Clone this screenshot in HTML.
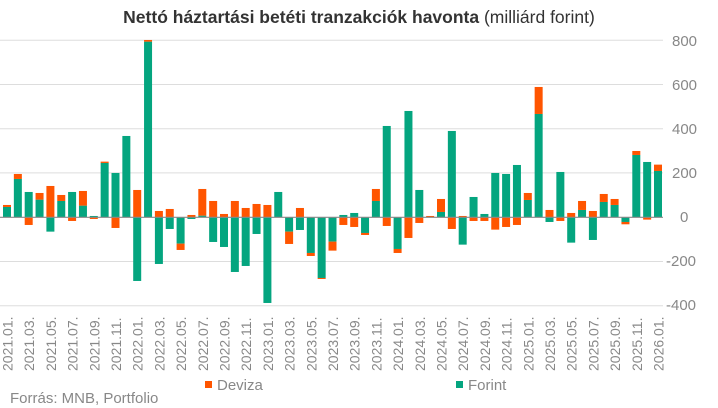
<!DOCTYPE html>
<html><head><meta charset="utf-8"><style>
html,body{margin:0;padding:0;background:#fff;}
svg{display:block;font-family:"Liberation Sans",sans-serif;}
</style></head><body>
<svg id="c" width="718" height="408" xmlns="http://www.w3.org/2000/svg">
<text x="359" y="23" text-anchor="middle" font-size="17.5" fill="#333"><tspan font-weight="bold">Nettó háztartási betéti tranzakciók havonta</tspan> (milliárd forint)</text>
<g stroke="#ddd" stroke-width="1">
<line x1="0" x2="663" y1="40.3" y2="40.3"/><line x1="0" x2="663" y1="84.5" y2="84.5"/>
<line x1="0" x2="663" y1="128.7" y2="128.7"/><line x1="0" x2="663" y1="172.9" y2="172.9"/>
<line x1="0" x2="663" y1="261.5" y2="261.5"/><line x1="0" x2="663" y1="305.7" y2="305.7"/>
</g>
<g font-size="15" fill="#888">
<text x="672" y="46">800</text><text x="672" y="90">600</text><text x="672" y="134">400</text>
<text x="672" y="178">200</text><text x="680" y="222">0</text><text x="666" y="266">-200</text><text x="666" y="310">-400</text>
</g>
<g id="bars"></g>
<line x1="0" x2="663" y1="217.3" y2="217.3" stroke="#888" stroke-width="1.2"/>
<g id="xl" font-size="14" fill="#888"></g>
<rect x="205" y="381" width="7" height="7" fill="#ff5500"/>
<text x="217" y="390" font-size="15" fill="#888">Deviza</text>
<rect x="456" y="381" width="7" height="7" fill="#04a57f"/>
<text x="468" y="390" font-size="15" fill="#888">Forint</text>
<text x="10" y="403" font-size="15" fill="#888">Forrás: MNB, Portfolio</text>
</svg>
<script>
var d=[[31,6],[115,15],[76,-23],[53,20],[-43,94],[49,18],[76,-11],[35,44],[4,-5],[163,4],[133,-32],[244,0],[-191,82],[527,5],[-140,19],[-35,25],[-79,-19],[-5,7],[5,80],[-74,49],[-89,10],[-164,49],[-146,28],[-50,40],[-257,37],[76,0],[-43,-37],[-38,28],[-107,-9],[-182,-3],[-73,-27],[7,-23],[13,-29],[-47,-6],[49,36],[274,-26],[-95,-12],[319,-62],[82,-17],[0,4],[16,39],[259,-35],[-82,4],[61,-11],[10,-11],[133,-37],[130,-29],[157,-23],[52,21],[310,81],[-14,22],[136,-11],[-76,13],[22,27],[-68,19],[46,24],[37,18],[-14,-7],[187,12],[166,-7],[139,19]];
var s='',z=217.3,l='';
d.forEach(function(v,i){var x=3+i*10.85,f=v[0]/3,e=v[1]/3,p=0,n=0;
function r(val,c){var y0,h;if(val>=0){y0=z-p-val;h=val;p+=val;}else{y0=z+n;h=-val;n+=-val;}
s+='<rect x="'+x.toFixed(2)+'" y="'+y0.toFixed(2)+'" width="8" height="'+h.toFixed(2)+'" fill="'+c+'"/>';}
r(f,'#04a57f');r(e,'#ff5500');
if(i%2==0){var yr=2021+Math.floor(i/12),m=i%12+1;var cx=x+9.5;
l+='<text transform="translate('+cx.toFixed(2)+',371) rotate(-90)">'+yr+'.'+(m<10?'0':'')+m+'.</text>';}
});
document.getElementById('bars').innerHTML=s;document.getElementById('xl').innerHTML=l;
</script>
</body></html>
